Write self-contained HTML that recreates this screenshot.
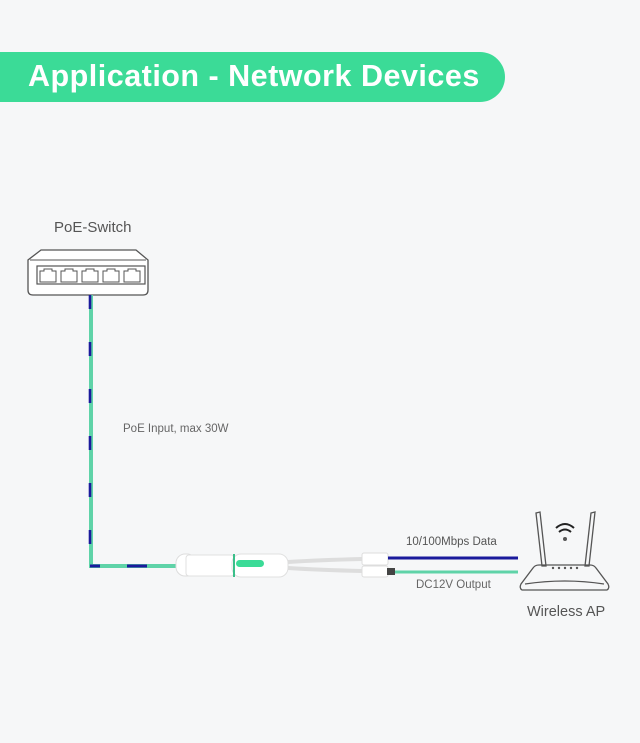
<!DOCTYPE html>
<html><head><style>
html,body{margin:0;padding:0;background:#f6f7f8;}
body{width:640px;height:743px;position:relative;overflow:hidden;font-family:"Liberation Sans",sans-serif;}
.banner{position:absolute;left:0;top:52px;width:505px;height:50px;background:#3bdb97;border-radius:0 25px 25px 0;}
.banner span{position:absolute;left:28px;top:7px;color:#fff;font-weight:bold;font-size:30.5px;letter-spacing:0.5px;}
.t{position:absolute;color:#555;}
</style></head><body>
<div class="banner"><span>Application - Network Devices</span></div>
<div class="t" style="left:54px;top:219px;font-size:15px;">PoE-Switch</div>
<div class="t" style="left:123px;top:423px;font-size:11.5px;color:#666;">PoE Input, max 30W</div>
<div class="t" style="left:406px;top:536px;font-size:11.5px;color:#555;">10/100Mbps Data</div>
<div class="t" style="left:416px;top:579px;font-size:11.5px;color:#666;">DC12V Output</div>
<div class="t" style="left:527px;top:604px;font-size:14.5px;color:#555;">Wireless AP</div>
<svg width="640" height="743" style="position:absolute;left:0;top:0">
<path d="M41 250 L136 250 L148 260 L148 290 Q148 295 143 295 L33 295 Q28 295 28 290 L28 260 Z" fill="#fff" stroke="#555" stroke-width="1.3"/>
<line x1="30" y1="260" x2="146" y2="260" stroke="#555" stroke-width="1"/>
<rect x="37" y="266" width="108" height="18" fill="none" stroke="#555" stroke-width="1.2"/>
<g fill="none" stroke="#555" stroke-width="1">
<path d="M40 282 V271 H44 V269 H52 V271 H56 V282 Z"/>
<path d="M61 282 V271 H65 V269 H73 V271 H77 V282 Z"/>
<path d="M82 282 V271 H86 V269 H94 V271 H98 V282 Z"/>
<path d="M103 282 V271 H107 V269 H115 V271 H119 V282 Z"/>
<path d="M124 282 V271 H128 V269 H136 V271 H140 V282 Z"/>
</g>
<path d="M91 295 V566 H178" fill="none" stroke="#5fd3a8" stroke-width="4"/>
<path d="M90 295 V566" fill="none" stroke="#1a1a9c" stroke-width="2.6" stroke-dasharray="14 33"/>
<path d="M90 566 H100 M127 566 H147" stroke="#1a1a9c" stroke-width="3"/>
<rect x="176" y="554" width="20" height="22" rx="9" fill="#fff" stroke="#ddd"/>
<rect x="186" y="555" width="48" height="21" rx="3" fill="#fff" stroke="#e0e0e0"/>
<rect x="232" y="554" width="56" height="23" rx="9" fill="#fff" stroke="#e0e0e0"/>
<rect x="233" y="554" width="2" height="23" fill="#3bbf8a"/>
<rect x="236" y="560" width="28" height="7" rx="3.5" fill="#3bdb97"/>
<path d="M288 562 Q320 560 362 559" stroke="#ddd" stroke-width="4" fill="none"/>
<path d="M288 568 Q320 570 362 571" stroke="#ddd" stroke-width="4" fill="none"/>
<rect x="362" y="553" width="26" height="12" rx="2" fill="#fff" stroke="#ddd"/>
<rect x="362" y="566" width="26" height="11" rx="2" fill="#fff" stroke="#ddd"/>
<rect x="387" y="568" width="8" height="7" fill="#444"/>
<line x1="388" y1="558" x2="518" y2="558" stroke="#1a1a9c" stroke-width="3"/>
<line x1="395" y1="572" x2="518" y2="572" stroke="#5fd3a8" stroke-width="3"/>
<g fill="none" stroke="#555" stroke-width="1.3">
<path d="M536 513 L542 566 L546 566 L540 512 Z"/>
<path d="M591 513 L585 566 L589 566 L595 512 Z"/>
<path d="M530 590 L607 590 Q610 588 608 584 L596 568 Q594 565 590 565 L539 565 Q535 565 533 568 L521 584 Q519 588 522 590 Z"/>
<path d="M525 584 Q565 578 604 584"/>
</g>
<g fill="#555"><circle cx="553" cy="568" r="1.2"/><circle cx="559" cy="568" r="1.2"/><circle cx="565" cy="568" r="1.2"/><circle cx="571" cy="568" r="1.2"/><circle cx="577" cy="568" r="1.2"/>
<circle cx="565" cy="539" r="2"/></g>
<g fill="none" stroke="#222" stroke-width="2">
<path d="M556 528 Q565 520 574 528"/><path d="M559 532 Q565 527 571 532"/></g>
</svg>
</body></html>
